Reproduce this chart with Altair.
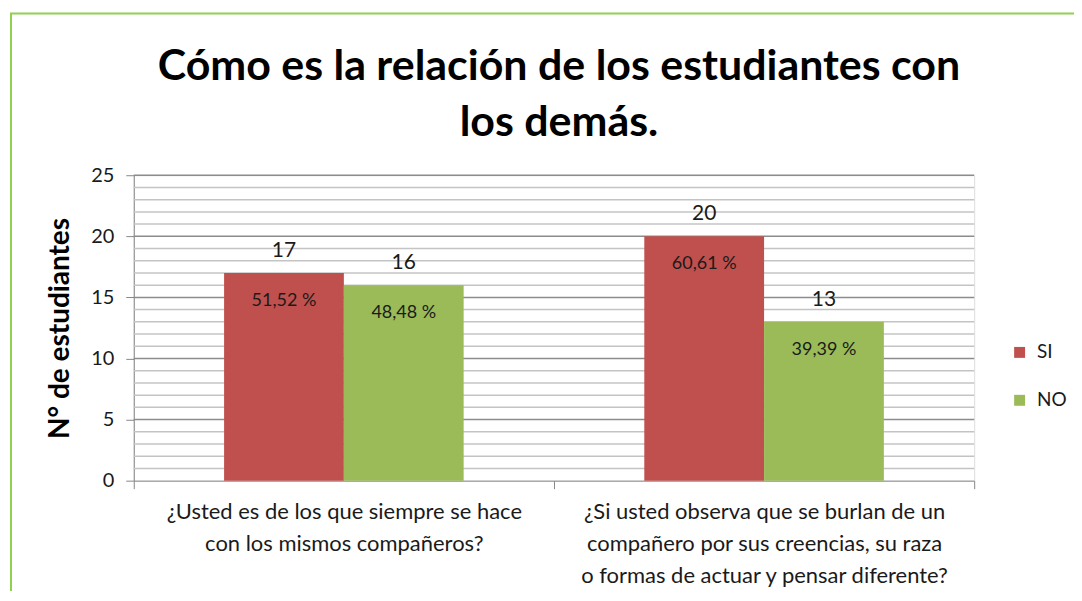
import altair as alt
import pandas as pd

title_lines = ["Cómo es la relación de los estudiantes con", "los demás."]
categories = [
    "¿Usted es de los que siempre se hace|con los mismos compañeros?",
    "¿Si  usted observa que se burlan de un|compañero por sus creencias, su raza|o formas de actuar y pensar diferente?",
]
series = ["SI", "NO"]
si_values = [17, 20]
no_values = [16, 13]
colors = ["#C0504D", "#9BBB59"]
y_max = 25

rows = []
for i, cat in enumerate(categories):
    total = si_values[i] + no_values[i]
    for s, v in (("SI", si_values[i]), ("NO", no_values[i])):
        pct = f"{100 * v / total:.2f}".replace(".", ",") + " %"
        rows.append({"cat": cat, "serie": s, "valor": v, "pct": pct})
df = pd.DataFrame(rows)

grid_df = pd.DataFrame({"valor": list(range(1, y_max + 1))})
grid_df["major"] = grid_df["valor"] % 5 == 0

FONT = "Lato"
W, H = 842, 306

y_scale = alt.Scale(domain=[0, y_max], nice=False)
y_axis = alt.Axis(
    title="N° de estudiantes",
    titleFont=FONT,
    titleFontSize=28,
    titleFontWeight="bold",
    titleColor="#000000",
    titlePadding=16,
    values=[0, 5, 10, 15, 20, 25],
    labelOverlap=False,
    labelFont=FONT,
    labelFontSize=20,
    labelColor="#1a1a1a",
    labelPadding=12,
    tickSize=8,
    tickColor="#888888",
    domainColor="#888888",
    grid=False,
)
y = alt.Y("valor:Q", scale=y_scale, axis=y_axis)

x = alt.X(
    "cat:N",
    sort=categories,
    scale=alt.Scale(paddingInner=0, paddingOuter=0),
    axis=alt.Axis(
        title=None,
        labelAngle=0,
        labelExpr="split(datum.label, '|')",
        labelFontSize=22,
        labelFont=FONT,
        labelColor="#1a1a1a",
        labelLineHeight=32,
        labelPadding=13,
        labelLimit=0,
        tickBand="extent",
        tickSize=8,
        tickColor="#888888",
        domainColor="#888888",
        grid=False,
    ),
)
xo = alt.XOffset("serie:N", sort=series, scale=alt.Scale(paddingOuter=0.754, paddingInner=0))

grid = alt.Chart(grid_df).mark_rule(strokeWidth=1.5).encode(
    y=y,
    color=alt.Color("major:N", scale=alt.Scale(domain=[True, False], range=["#8c8c8c", "#c4c4c4"]), legend=None),
)

bars = alt.Chart(df).mark_bar(size=120).encode(
    x=x,
    xOffset=xo,
    y=y,
    fill=alt.Fill(
        "serie:N",
        sort=series,
        scale=alt.Scale(domain=series, range=colors),
        legend=alt.Legend(
            title=None,
            orient="none",
            legendX=878,
            legendY=168,
            symbolType="square",
            symbolSize=120,
            symbolStrokeWidth=0,
            labelFont=FONT,
            labelFontSize=19,
            labelColor="#1a1a1a",
            rowPadding=28,
            labelOffset=8,
        ),
    ),
)

counts = alt.Chart(df).mark_text(
    baseline="alphabetic", dy=-16, font=FONT, fontSize=21, color="#1a1a1a"
).encode(x=x, xOffset=xo, y=y, text="valor:Q")

pcts = alt.Chart(df).mark_text(
    baseline="middle", dy=28, font=FONT, fontSize=18, color="#1a1a1a"
).encode(x=x, xOffset=xo, y=y, text="pct:N")

title_df = pd.DataFrame({"k": [0]})
title = alt.Chart(title_df).mark_text(
    text=title_lines,
    font=FONT,
    fontSize=43,
    fontWeight="bold",
    color="#000000",
    align="center",
    baseline="alphabetic",
    lineHeight=56,
    clip=False,
).encode(x=alt.value(426), y=alt.value(-95))

border = alt.Chart(title_df).mark_rect(
    fill=None, stroke="#92D050", strokeWidth=2, clip=False
).encode(
    x=alt.value(-123), x2=alt.value(1200), y=alt.value(-162), y2=alt.value(700)
)

chart = alt.layer(border, grid, bars, counts, pcts, title).resolve_scale(
    color="independent"
).properties(
    width=W,
    height=H,
    padding={"left": 126, "top": 167, "right": 100, "bottom": 110},
    autosize=alt.AutoSizeParams(type="none"),
).configure_view(stroke=None).configure(background="white")

chart.save("out.html", embed_options={"renderer": "svg", "actions": False})
